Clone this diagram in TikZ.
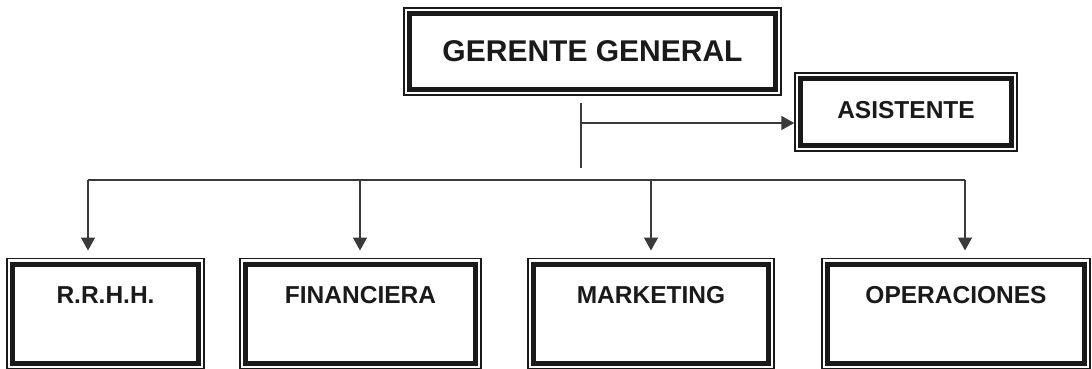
\documentclass[tikz,border=0pt]{standalone}
\usepackage{fontspec}
\setmainfont{Liberation Sans}
\usetikzlibrary{arrows.meta}
\definecolor{ink}{HTML}{1A1A1A}
\definecolor{wire}{HTML}{3A3A3A}
\tikzset{
  orgbox/.style={draw=ink, line width=5pt, fill=white, line join=miter,
    preaction={draw=ink, line width=12.5pt},
    preaction={draw=white, line width=9.5pt},
    outer sep=6.25pt, inner sep=0pt, font=\bfseries, text=ink},
  topbox/.style={orgbox, font=\fontsize{30}{34}\selectfont\bfseries},
  sidebox/.style={orgbox, font=\fontsize{24.5}{28}\selectfont\bfseries, text height=18pt, text depth=6pt},
  lowbox/.style={orgbox, font=\fontsize{24.5}{28}\selectfont\bfseries, text height=18pt, text depth=39pt, minimum height=99pt},
  wireline/.style={draw=wire, line width=1.5pt},
  arr/.style={wireline, -{Triangle[length=13pt,width=14pt]}}
}
\begin{document}
\begin{tikzpicture}[x=1pt,y=-1pt]
\useasboundingbox (0,0) rectangle (1092,368);
\clip (0,0) rectangle (1092,368);
% boxes
\node[topbox, minimum width=366pt, minimum height=76pt] (g) at (592.5,51.5) {GERENTE GENERAL};
\node[sidebox, minimum width=211pt, minimum height=67pt] (a) at (906,112) {ASISTENTE};
\node[lowbox, minimum width=186pt] (r) at (105.5,313.5) {R.R.H.H.};
\node[lowbox, minimum width=230pt] (f) at (360.5,313.5) {FINANCIERA};
\node[lowbox, minimum width=235pt] (m) at (651,313.5) {MARKETING};
\node[lowbox, minimum width=257pt] (o) at (956,313.5) {OPERACIONES};
% connector points
\coordinate (v1) at (581,103);
\coordinate (v2) at (581,168);
\coordinate (va) at (581,123);
\coordinate (b1) at (88,180);
\coordinate (b2) at (360,180);
\coordinate (b3) at (651,180);
\coordinate (b4) at (965,180);
% connectors
\draw[wireline] (v1) -- (v2);
\draw[arr] (va) -- (va -| a.west);
\draw[wireline] (b1) -- (b4);
\draw[arr, shorten >=7.25pt] (b1) -- (b1 |- r.north);
\draw[arr, shorten >=7.25pt] (b2) -- (b2 |- f.north);
\draw[arr, shorten >=7.25pt] (b3) -- (b3 |- m.north);
\draw[arr, shorten >=7.25pt] (b4) -- (b4 |- o.north);
\end{tikzpicture}
\end{document}
